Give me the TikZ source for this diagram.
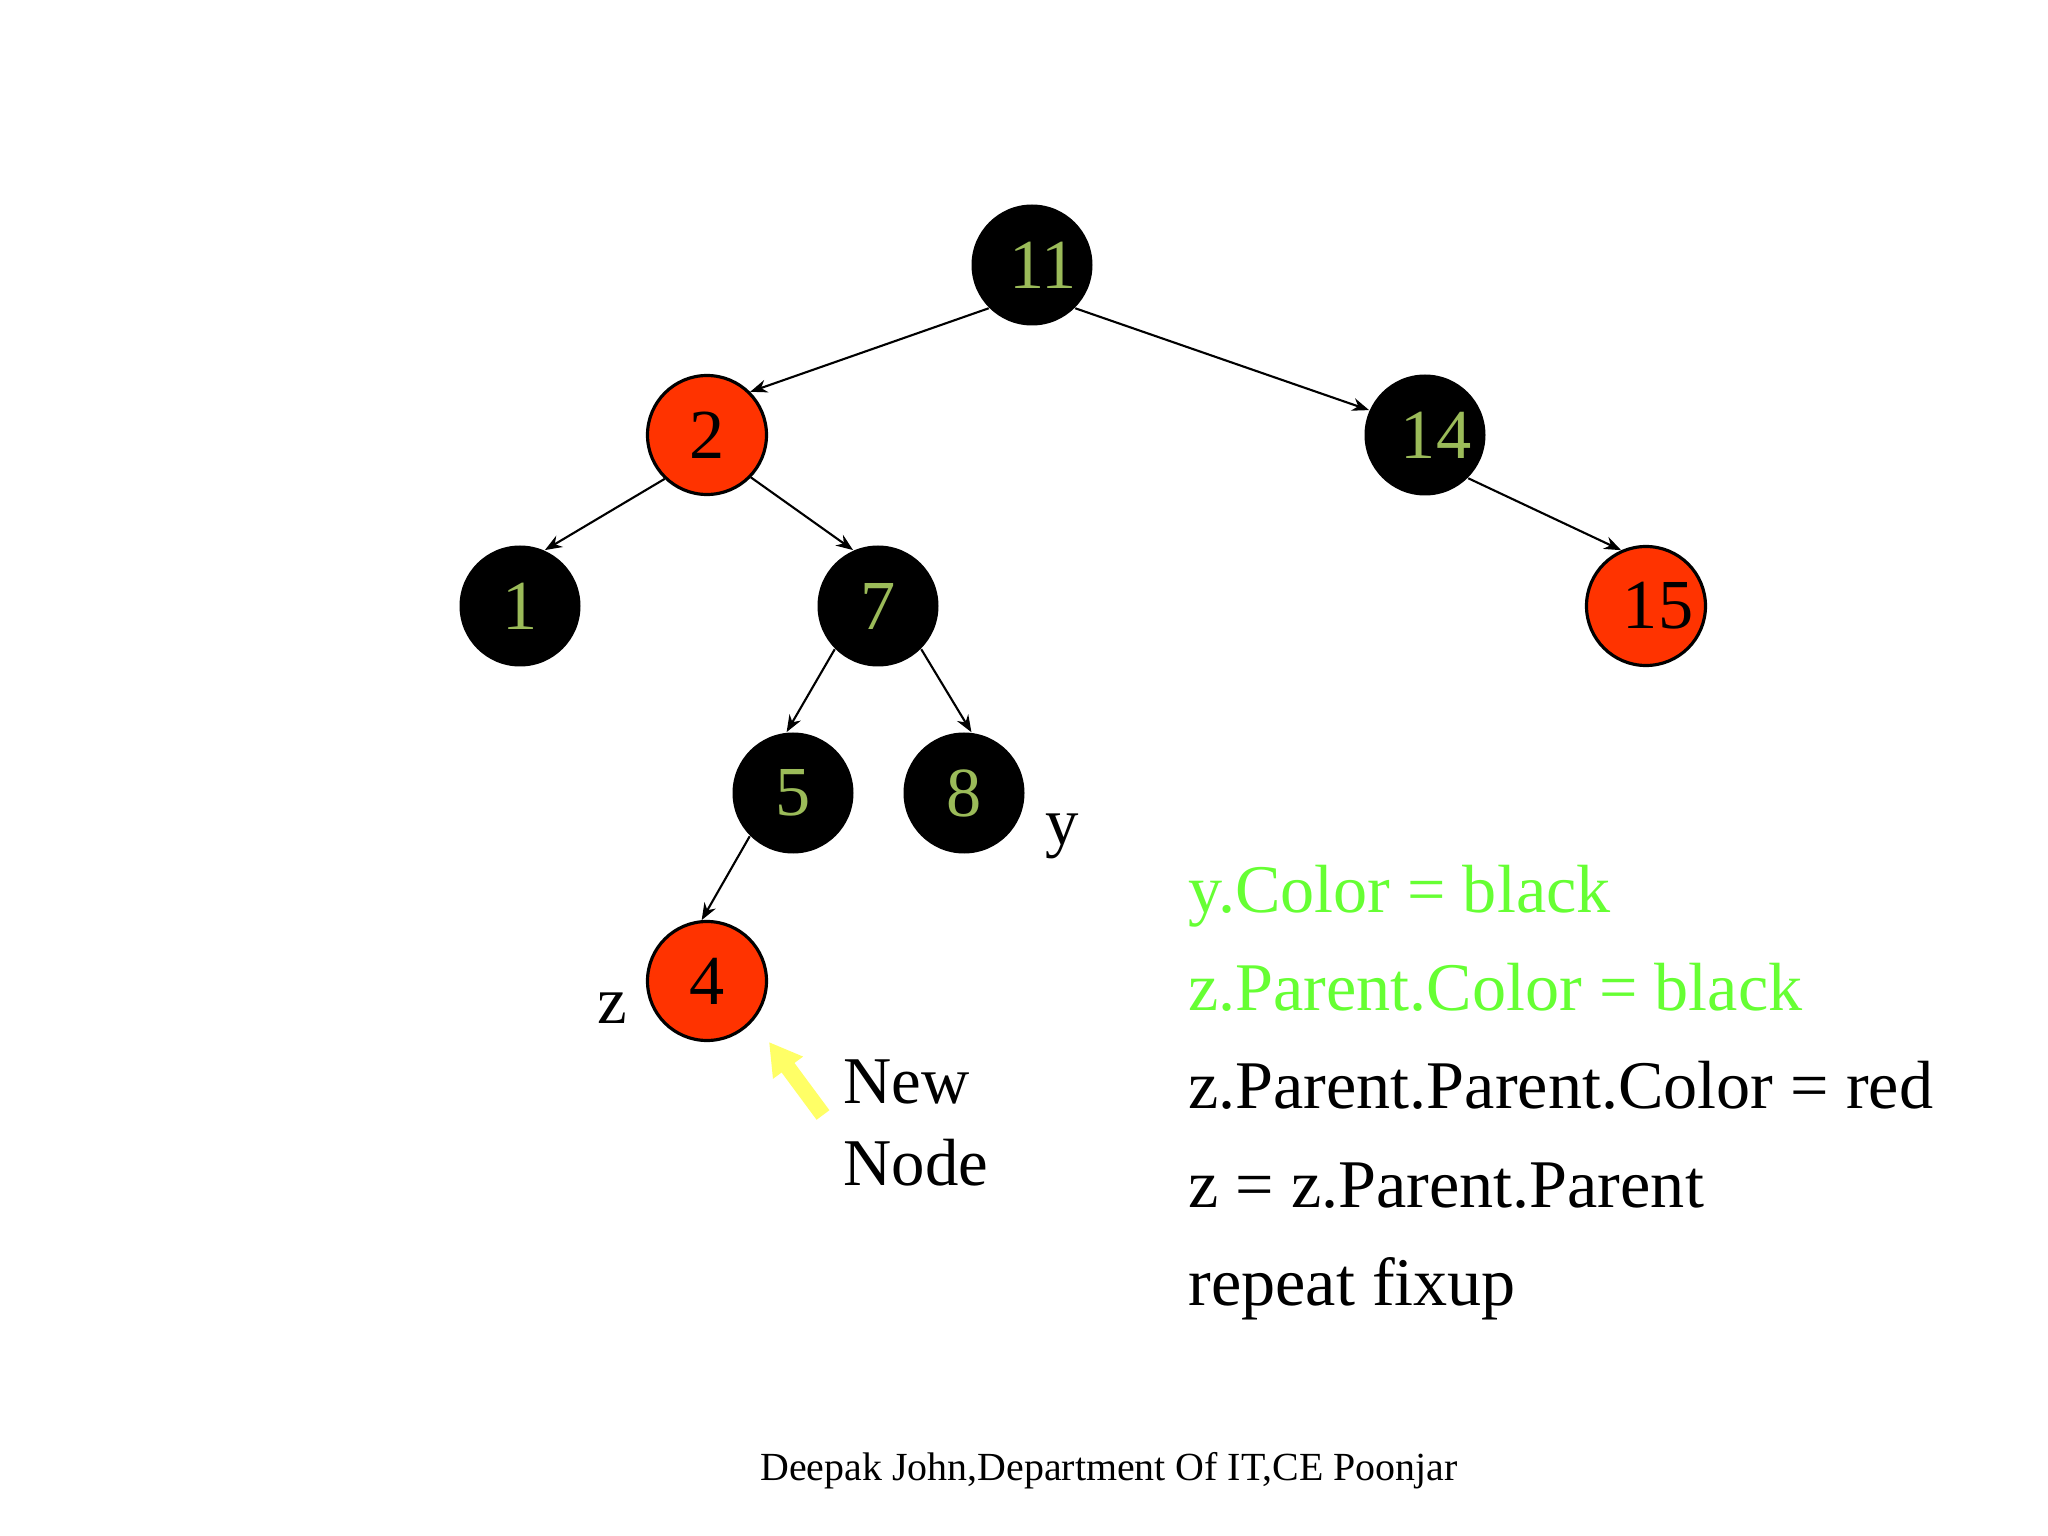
\documentclass[tikz,border=0pt]{standalone}
\usepackage{fontspec}
\setmainfont{Liberation Serif}
\definecolor{rbRed}{RGB}{255, 51, 0}
\definecolor{keyGreen}{RGB}{155, 187, 89}
\definecolor{fixGreen}{RGB}{102, 255, 51}
\definecolor{markYellow}{RGB}{255, 255, 102}
\usetikzlibrary{arrows.meta, positioning}

\begin{document}
\begin{tikzpicture}[
      on grid,
      every node/.style={font=\fontsize{19}{23}\selectfont},
      blacknode/.style={circle, fill=black, text=keyGreen, inner sep=0pt, minimum size=1.21cm, font=\fontsize{20}{24}\selectfont},
      rednode/.style={circle, draw=black, fill=rbRed, text=black, line width=0.9pt, inner sep=0pt, minimum size=1.19cm, font=\fontsize{20}{24}\selectfont},
      arrow/.style={-{Stealth[length=0.17cm, width=0.13cm]}, line width=0.6pt, color=black},
      newarrow/.style={-{Triangle[length=0.32cm, width=0.35cm]}, line width=0.16cm, color=markYellow},
      fixline/.style={anchor=base west, font=\fontsize{19.4}{23}\selectfont}
    ]
      \fill[white] (0,0) rectangle (20.48,-15.36);
      \useasboundingbox (0,0) rectangle (20.48,-15.36);

      % Tree
      \node[blacknode] at (10.32,-2.65) (n11) {\hspace{0.22cm}11};
      \node[rednode, below left=1.70cm and 3.25cm of n11] (n2) {2};
      \node[blacknode, below right=1.70cm and 3.93cm of n11] (n14) {\hspace{0.22cm}14};
      \node[blacknode, below left=1.71cm and 1.87cm of n2] (n1) {1};
      \node[blacknode, below right=1.71cm and 1.71cm of n2] (n7) {7};
      \node[rednode, below right=1.71cm and 2.21cm of n14] (n15) {\hspace{0.24cm}15};
      \node[blacknode, below left=1.87cm and 0.85cm of n7] (n5) {5};
      \node[blacknode, below right=1.87cm and 0.86cm of n7] (n8) {8};
      \node[rednode, below left=1.88cm and 0.86cm of n5] (n4) {4};

      \node[anchor=base] at (10.62,-8.45) (ylabel) {y};
      \node[anchor=base] at (6.12,-10.23) (zlabel) {z};

      % Edges
      \draw[arrow] (n11.225) -- (n2.45);
      \draw[arrow] (n11.315) -- (n14.156);
      \draw[arrow] (n2.226) -- (n1.66);
      \draw[arrow] (n2.316) -- (n7.114);
      \draw[arrow] (n14.315) -- (n15.114);
      \draw[arrow] (n7.225) -- (n5.96);
      \draw[arrow] (n7.315) -- (n8.83);
      \draw[arrow] (n5.225) -- (n4.95);

      % New node marker
      \coordinate (tail) at (8.23,-11.15);
      \coordinate (tip) at (7.69,-10.42);
      \draw[newarrow] (tail) -- (tip);
      \node[anchor=base west] at (8.31,-11.03) (newtxt) {New};
      \node[anchor=base west] at (8.31,-11.85) (nodetxt) {Node};

      % Fixup steps
      \node[fixline, text=fixGreen] at (11.76,-9.12) (line1) {y.Color = black};
      \node[fixline, text=fixGreen] at (11.76,-10.10) (line2) {z.Parent.Color = black};
      \node[fixline] at (11.76,-11.08) (line3) {z.Parent.Parent.Color = red};
      \node[fixline] at (11.76,-12.07) (line4) {z = z.Parent.Parent};
      \node[fixline] at (11.76,-13.05) (line5) {repeat fixup};

      % Footer
      \node[anchor=base, font=\fontsize{11.35}{14}\selectfont] at (11.09,-14.80) (footer) {Deepak John,Department Of IT,CE Poonjar};
    \end{tikzpicture}
\end{document}
